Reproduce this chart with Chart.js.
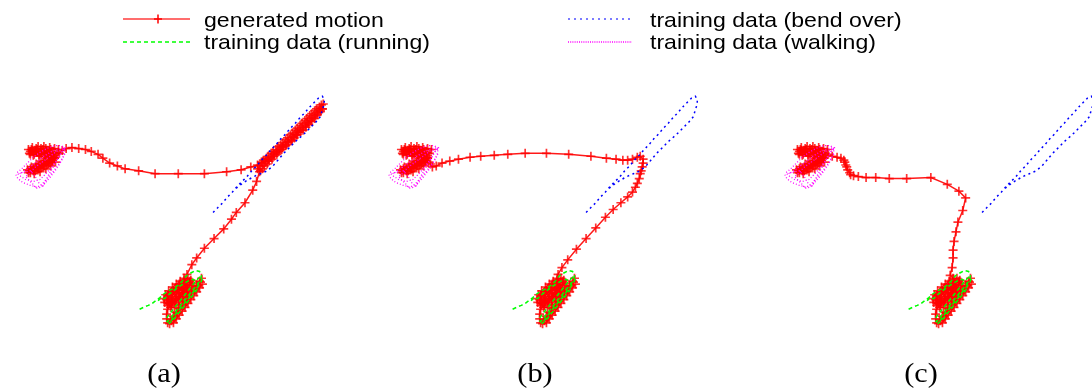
<!DOCTYPE html>
<html>
<head>
<meta charset="utf-8">
<script src="https://cdn.jsdelivr.net/npm/chart.js@4.4.1/dist/chart.umd.min.js"></script>
<style>
  html, body { margin:0; padding:0; background:#fff; overflow:hidden; }
  #wrap { position:relative; width:1092px; height:390px; overflow:hidden; background:#fff; }
  canvas.panel { position:absolute; top:0; }
  .leg { position:absolute; font-family:"Liberation Sans", Arial, sans-serif; font-size:21px; line-height:21px;
         color:#000; white-space:nowrap; transform:scaleX(1.1); transform-origin:left top; }
  .lab { position:absolute; font-family:"Liberation Serif", "Times New Roman", serif; font-size:27px; line-height:27px;
         color:#000; white-space:nowrap; transform:translateX(-50%) scaleX(1.12); }
  #legc { position:absolute; left:0; top:0; }
</style>
</head>
<body>
<div id="wrap">
  <canvas id="ca" class="panel" width="373" height="390" style="left:0px"></canvas>
  <canvas id="cb" class="panel" width="373" height="390" style="left:373px"></canvas>
  <canvas id="cc" class="panel" width="373" height="390" style="left:769px"></canvas>
  <canvas id="legc" width="700" height="60"></canvas>
  <div class="leg" style="left:204px; top:9px">generated motion</div>
  <div class="leg" style="left:204px; top:31px">training data (running)</div>
  <div class="leg" style="left:650px; top:9px">training data (bend over)</div>
  <div class="leg" style="left:650px; top:31px">training data (walking)</div>
  <div class="lab" style="left:164px; top:360px">(a)</div>
  <div class="lab" style="left:535px; top:360px">(b)</div>
  <div class="lab" style="left:921px; top:360px">(c)</div>
</div>
<script>
// ---- data (panel-local coordinates) ----
const panelLabels = ["(a)", "(b)", "(c)"];
const seriesNames = ["generated motion", "training data (bend over)", "training data (running)", "training data (walking)"];

const walkTrain = [
 [10,174],[12,178],[17,182],[25,185],[32,187],[37,184],[43,177],[50,169],[56,161],[60,153],[61,147],[57,144],[50,144],[42,147],[35,151],[28,156],[22,162],[16,168],[11,172],
 [14,175],[20,179],[28,181],[35,179],[41,173],[47,166],[53,158],[58,150],[62,146],[55,147],[47,150],[39,155],[30,162],[22,168],[16,172],
 [25,170],[30,176],[34,183],[38,186],[41,180],[45,172],[50,164],[55,155],[59,148],[52,150],[44,156],[36,162],[29,167],[25,172],[20,176],
 [27,183],[31,188],[36,187],[40,183],[46,176],[52,168],[57,160],[61,152]
];
const bendTrain = [
 [214,213],[219,208],[224,203],[229,197],[234,192],[239,186],[244,181],[249,176],[254,170],[259,165],[264,159],[269,154],[274,148],[279,143],[284,137],[289,132],[294,126],[299,121],[304,115],[309,110],[314,104],[319,99],[323,95],[327,93],[329,96],[329,101],[327,107],[325,114],[320,120],[314,126],[307,133],[300,139],[293,146],[287,152],[281,159],[276,165],[270,170],[263,173],[256,176],[249,180],[243,184],[238,188]
];
const runTrain = [
 [138,313],[142,311],[147,309],[151,307],[155,304],[159,301],[162,298],[166,295],[170,293],[174,291],[178,288],[182,284],[185,280],[188,277],[192,275],[196,273],[200,274],[202,278],[201,283],[198,287],[194,292],[190,297],[186,302],[182,307],[178,312],[174,317],[170,322],[167,326],[165,324],[168,319],[172,314],[176,309],[180,304],[184,299],[188,294],[192,289],[196,284],[200,280],[203,281],[201,286],[197,291],[193,296],[189,301],[185,306],[181,311],[177,316],[173,321],[170,326],[168,328],[172,325],[176,320],[180,315],[184,310],[188,305],[192,300],[196,295],[199,290],[198,285],[193,282],[188,284],[183,287],[178,290],[173,294],[168,298],[164,302],[160,302],[157,304]
];
const walkGen = [
 [24,170],[28,168],[33,166],[38,163],[43,160],[47,157],[50,154],[47,152],[42,152],[36,152],[30,151],[25,150],[23,148],[27,146],[33,145],[39,145],[45,146],[50,147],[54,148],[52,152],[48,156],[44,160],[39,163],[33,167],[28,170],[23,172],[22,169],[26,166],[31,163],[36,160],[41,157],[45,154],[49,151],[44,149],[38,148],[32,148],[27,149],[24,152],[28,154],[34,155],[40,155],[46,155],[50,157],[47,161],[42,164],[36,167],[30,170],[25,172],[29,173],[35,171],[41,168],[46,165],[51,161],
 [48,159],[44,162],[39,165],[34,168],[29,170],[25,168],[30,166],[35,164],[40,161],[45,159],[49,156],[46,153],[41,150],[36,150],[31,150],[26,148],[31,147],[36,147],[41,147],[46,148],[44,151],[39,153],[34,153],[29,153],[25,153],[50,157]
];
const runGen = [
 [184,281],[180,284],[176,287],[172,290],[168,294],[165,298],[163,302],[164,306],[167,309],[171,309],[175,306],[179,302],[183,298],[187,293],[190,288],[191,283],[188,281],[184,283],[179,287],[175,291],[171,295],[168,299],[166,303],[167,307],[170,311],[174,311],[178,308],[182,304],[186,299],[189,295],[192,290],[193,286],[190,284],[186,287],[181,292],[176,297],[172,302],[169,307],
 [171,300],[174,296],[178,293],[182,290],[186,288],[183,294],[179,298],[175,302],[172,305],[176,303],[180,300],[184,296],[188,291],
 [185,285],[181,288],[177,291],[173,294],[170,297],[167,301],[168,304],[171,306],[175,304],[179,300],[183,296],[187,291],
 [167,313],[166,318],[166,323],[167,327],[170,324],[173,320],[176,316],[179,312],[182,308],[185,304],[188,300],[191,296],[194,292],[197,288],[200,284],[202,281],[201,285],[198,289],[195,293],[192,297],[189,301],[186,305],[183,309],[180,313],[177,317],[174,321],[171,325],[169,328],[173,327],[176,323],[179,319],[182,315],[185,311],[188,307],[191,303],[194,299],[197,295],[200,291],[203,287]
];
const transA = [
 [55,152],[58,149],[62,147],[68,146],[75,147],[82,148],[88,150],[95,153],[100,157],[107,162],[115,165],[123,168],[137,170],[154,173],[178,173],[205,173],[228,171],[243,169],[253,166],[260,164],
 [264,161],[266,159],[269,157],[271,155],[274,152],[276,150],[279,148],[281,145],[284,143],[286,141],[289,138],[291,136],[294,133],[296,131],[299,128],[301,126],[304,123],[306,121],[309,118],[311,116],[314,113],[316,111],[319,108],[321,106],[324,104],[326,102],[328,101],
 [327,106],[325,108],[322,110],[320,113],[317,115],[315,118],[312,120],[310,123],[307,125],[305,128],[302,130],[300,133],[297,135],[295,138],[292,140],[290,143],[287,145],[285,148],[282,150],[280,153],[277,155],[275,158],[272,160],[270,163],[267,165],[265,168],[263,170],
 [260,168],[262,165],[265,162],[268,160],[271,158],[274,156],[277,153],[280,151],[283,148],[286,146],[289,144],[292,141],[295,139],[298,136],[301,133],[304,130],[307,128],[310,125],[313,122],[316,119],[319,116],[322,112],[325,109],[327,106],
 [262,171],[259,181],[255,190],[247,203],[238,213],[233,220],[225,230],[215,240],[205,250],[197,260],[192,267],[187,277]
];
const transB = [
 [53,163],[55,166],[59,165],[65,162],[73,160],[82,158],[94,156],[105,155],[119,154],[133,153],[151,152],[173,152],[196,153],[219,155],[235,157],[245,158],[252,159],[257,159],[262,158],[267,156],[270,155],[273,158],[273,162],[272,166],[271,170],[270,173],[269,178],[267,183],[265,187],[262,192],[257,197],[250,203],[242,210],[234,218],[224,229],[214,240],[204,251],[195,262],[189,270],[185,277]
];
const transC = [
 [55,153],[59,155],[64,156],[68,157],[71,159],[72,161],[73,164],[74,166],[75,169],[77,172],[78,174],[81,175],[86,176],[94,177],[104,177],[118,178],[136,178],[161,177],[178,184],[190,191],[197,198],[194,211],[189,223],[187,233],[185,243],[184,252],[184,260],[183,270],[181,278]
];
const genA = walkGen.concat(transA, runGen);
const genB = walkGen.concat(transB, runGen);
const genC = walkGen.concat(transC, runGen);

// ---- drawing ----
const toXY = arr => arr.map(p => ({x:p[0], y:p[1]}));
function makePanel(id, gen) {
  new Chart(document.getElementById(id), {
    type: 'scatter',
    data: { datasets: [
      { label: seriesNames[0], data: toXY(gen), showLine: true, order: 10,
        borderColor: 'rgba(255,0,0,0.9)', borderWidth: 1.5, pointStyle: 'cross', pointRadius: 4.5,
        pointBorderColor: 'rgba(255,0,0,0.8)', pointBorderWidth: 1.7, pointBackgroundColor: 'red', tension: 0 },
      { label: seriesNames[1], data: toXY(bendTrain), showLine: true, order: 1,
        borderColor: '#0000ff', borderWidth: 1.5, borderDash: [2,3.5], pointRadius: 0, tension: 0 },
      { label: seriesNames[2], data: toXY(runTrain), showLine: true, order: 1,
        borderColor: '#00ff00', borderWidth: 1.5, borderDash: [4,3], pointRadius: 0, tension: 0 },
      { label: seriesNames[3], data: toXY(walkTrain), showLine: true, order: 1,
        borderColor: '#ff00ff', borderWidth: 1.3, borderDash: [1,2], pointRadius: 0, tension: 0 }
    ]},
    options: {
      responsive: false, animation: false, devicePixelRatio: 1,
      layout: { padding: 0 },
      plugins: { legend: { display: false }, tooltip: { enabled: false } },
      scales: {
        x: { type: 'linear', min: 0, max: 373, display: false },
        y: { type: 'linear', min: 0, max: 390, reverse: true, display: false }
      }
    }
  });
}
makePanel('ca', genA);
makePanel('cb', genB);
makePanel('cc', genC);

// legend sample lines
const lc = document.getElementById('legc').getContext('2d');
function sample(x1, x2, y, color, width, dash, cross) {
  lc.save(); lc.strokeStyle = color; lc.lineWidth = width; lc.setLineDash(dash);
  lc.beginPath(); lc.moveTo(x1, y); lc.lineTo(x2, y); lc.stroke();
  if (cross) { lc.setLineDash([]); lc.strokeStyle = '#ff0000'; lc.lineWidth = 1.5; lc.beginPath();
    lc.moveTo(cross - 4, y); lc.lineTo(cross + 4, y);
    lc.moveTo(cross, y - 4.5); lc.lineTo(cross, y + 4.5); lc.stroke(); }
  lc.restore();
}
sample(123, 190, 19, 'rgba(255,60,60,0.75)', 2, [], 158);
sample(123, 190, 42, '#00ff00', 1.5, [4,3], 0);
sample(568, 630, 19, '#5050ff', 1.5, [2,4], 0);
sample(568, 632, 42, '#ff00ff', 1.5, [1,1.2], 0);
</script>
</body>
</html>
